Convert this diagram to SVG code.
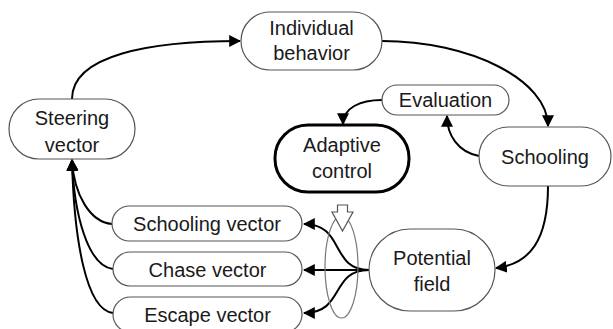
<svg xmlns="http://www.w3.org/2000/svg" width="613" height="329" viewBox="0 0 613 329">
<style>
.n{fill:#fff;stroke:#555;stroke-width:1.2}
.nb{fill:#fff;stroke:#000;stroke-width:3}
.t{font-family:"Liberation Sans",Arial,sans-serif;font-size:20px;fill:#1a1a1a;text-anchor:middle}
.c{fill:none;stroke:#000;stroke-width:2}
</style>
<defs>
<marker id="ah" viewBox="0 0 10 10" refX="9" refY="5" markerWidth="6" markerHeight="6" markerUnits="strokeWidth" orient="auto">
<path d="M0,0 L10,5 L0,10 z" fill="#000"/>
</marker>
</defs>
<rect width="613" height="329" fill="#fff"/>
<g id="connectors">
<path class="c" marker-end="url(#ah)" d="M72,99 C72,55 150,41 240,41"/>
<path class="c" marker-end="url(#ah)" d="M382,41 C470,41 548,80 548,126"/>
<path class="c" marker-end="url(#ah)" d="M479,156 C458,152 447,135 447,116"/>
<path class="c" marker-end="url(#ah)" d="M382,100 C360,100 343,108 343,124"/>
<path class="c" marker-end="url(#ah)" d="M548,186 C548,240 530,264 496,268"/>
<path class="c" marker-end="url(#ah)" d="M369,270 C330,270 345,224 304,224"/>
<path class="c" marker-end="url(#ah)" d="M369,270 L304,270"/>
<path class="c" marker-end="url(#ah)" d="M369,270 C330,270 345,313 304,313"/>
<path class="c" marker-end="url(#ah)" d="M112,224 C90,222 74,195 72,160"/>
<path class="c" marker-end="url(#ah)" d="M113,269 C88,266 74,215 72,160"/>
<path class="c" marker-end="url(#ah)" d="M113,313 C86,310 74,240 72,160"/>
<ellipse cx="341.5" cy="267" rx="16.5" ry="51" fill="none" stroke="#777" stroke-width="1.2"/>
<polygon points="337.5,205 347.5,205 347.5,212 353,212 342.5,231 332,212 337.5,212" fill="#fff" stroke="#555" stroke-width="1.2"/>
</g>
<g id="individual">
<rect class="n" x="241" y="12" width="141" height="58" rx="29"/>
<text class="t" x="311.5" y="35">Individual</text>
<text class="t" x="311.5" y="60">behavior</text>
</g>
<g id="steering">
<rect class="n" x="9" y="99" width="126" height="60" rx="30"/>
<text class="t" x="72" y="125">Steering</text>
<text class="t" x="72" y="152">vector</text>
</g>
<g id="evaluation">
<rect class="n" x="382" y="85" width="127" height="30" rx="15"/>
<text class="t" x="445.5" y="107">Evaluation</text>
</g>
<g id="adaptive">
<rect class="nb" x="275" y="125" width="134" height="67" rx="33"/>
<text class="t" x="342" y="152">Adaptive</text>
<text class="t" x="342" y="178">control</text>
</g>
<g id="schooling">
<rect class="n" x="479" y="127" width="132" height="59" rx="29.5"/>
<text class="t" x="545" y="164">Schooling</text>
</g>
<g id="potential">
<rect class="n" x="369" y="229" width="126" height="82" rx="41"/>
<text class="t" x="432" y="265">Potential</text>
<text class="t" x="432" y="291">field</text>
</g>
<g id="schooling-vector">
<rect class="n" x="112" y="206" width="190" height="35" rx="17.5"/>
<text class="t" x="207" y="231">Schooling vector</text>
</g>
<g id="chase-vector">
<rect class="n" x="113" y="252" width="189" height="34" rx="17"/>
<text class="t" x="207.5" y="277">Chase vector</text>
</g>
<g id="escape-vector">
<rect class="n" x="113" y="297" width="189" height="35" rx="17.5"/>
<text class="t" x="207.5" y="322">Escape vector</text>
</g>
</svg>
